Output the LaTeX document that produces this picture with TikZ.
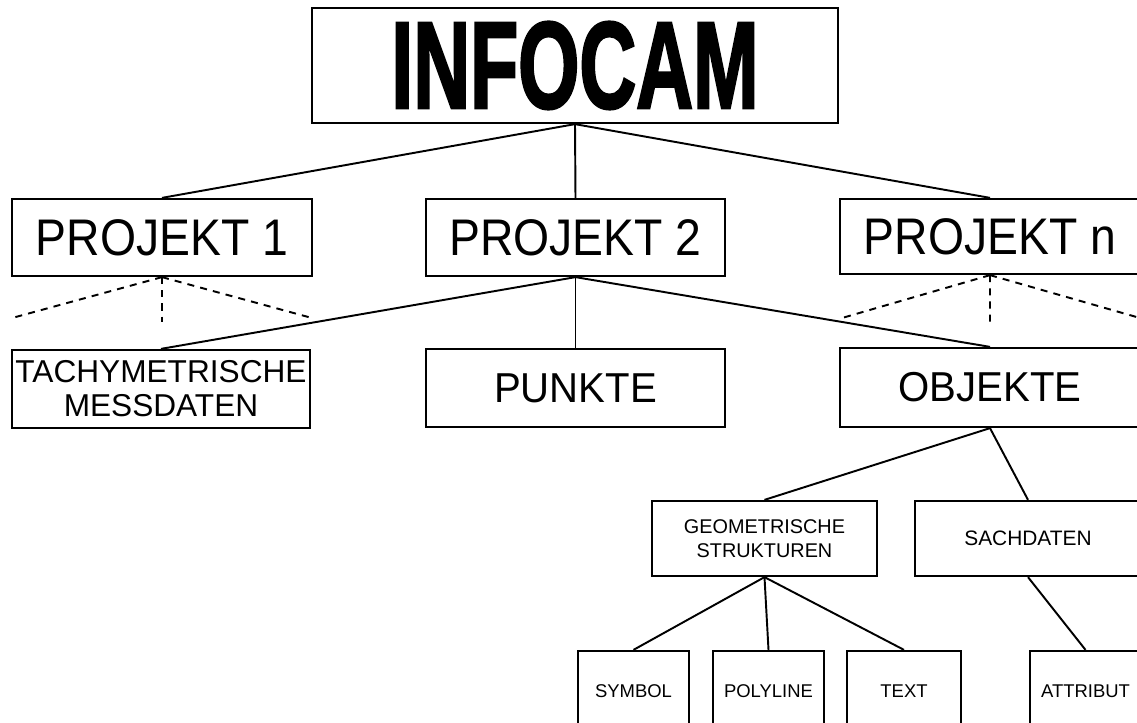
\documentclass[tikz,border=0pt]{standalone}
\usepackage{fontspec}
\setmainfont{Liberation Sans}
\newfontfamily\heavyfont[FakeBold=2.5]{Liberation Sans Bold}
\usepackage{graphicx}
\begin{document}
\begin{tikzpicture}[x=0.02cm,y=-0.02cm,
  box/.style={draw, line width=1.3pt, inner sep=0pt, align=center},
  link/.style={line width=1.1pt},
  dlink/.style={line width=1.1pt, dash pattern=on 4pt off 3.5pt},
  fbig/.style={font=\fontsize{29.3}{30}\selectfont},
  fmid/.style={font=\fontsize{23.8}{25}\selectfont},
  ftach/.style={font=\fontsize{18}{19.3}\selectfont},
  fgeo/.style={font=\fontsize{11.3}{13.6}\selectfont},
  fsach/.style={font=\fontsize{11.9}{14}\selectfont},
  fsmall/.style={font=\fontsize{10.5}{12}\selectfont}]
\useasboundingbox (0,0) rectangle (1137,723);
% top
\node[box, minimum width=10.52cm, minimum height=2.3cm] (inf) at (575,65.5)
  {\heavyfont\fontsize{70}{70}\selectfont\scalebox{0.64}[1]{INFOCAM}};
% projects
\node[box, fbig, minimum width=6cm, minimum height=1.54cm] (p1) at (162,237.5)
  {\scalebox{0.9}[1]{PROJEKT 1}};
\node[box, fbig, minimum width=5.98cm, minimum height=1.54cm] (p2) at (575.5,237.5)
  {\scalebox{0.9}[1]{PROJEKT 2}};
\node[box, fbig, minimum width=8.2cm, minimum height=1.5cm] (pn) at (1045,236.5)
  {\scalebox{0.9}[1]{PROJEKT n}\hspace*{2.2cm}};
% level 3
\node[box, ftach, minimum width=5.96cm, minimum height=1.56cm] (tach) at (161,389)
  {TACHYMETRISCHE\\MESSDATEN};
\node[box, fmid, minimum width=5.98cm, minimum height=1.56cm] (punk) at (575.5,388)
  {\scalebox{0.96}[1]{PUNKTE}};
\node[box, fmid, minimum width=8.2cm, minimum height=1.58cm] (obj) at (1045,387.5)
  {\scalebox{0.96}[1]{OBJEKTE}\hspace*{2.2cm}};
% level 4
\node[box, fgeo, minimum width=4.5cm, minimum height=1.5cm] (geo) at (764.5,538.5)
  {GEOMETRISCHE\\STRUKTUREN};
\node[box, fsach, minimum width=6.7cm, minimum height=1.5cm] (sach) at (1082.5,538.5)
  {SACHDATEN\hspace*{2.18cm}};
% level 5
\node[box, fsmall, minimum width=2.22cm, minimum height=1.6cm] (sym) at (633.5,691) {SYMBOL};
\node[box, fsmall, minimum width=2.22cm, minimum height=1.6cm] (poly) at (768.5,691) {POLYLINE};
\node[box, fsmall, minimum width=2.28cm, minimum height=1.6cm] (txt) at (904,691) {TEXT};
\node[box, fsmall, minimum width=4.4cm, minimum height=1.6cm] (attr) at (1140,691)
  {ATTRIBUT\hspace*{2.18cm}};
% connectors
\draw[link] (inf.south) -- (p1.north);
\draw[link] (inf.south) -- (p2.north);
\draw[link] (inf.south) -- ([xshift=-1.1cm]pn.north);
\draw[link] (p2.south) -- (tach.north);
\draw[link] (p2.south) -- (punk.north);
\draw[link] (p2.south) -- ([xshift=-1.1cm]obj.north);
\draw[link] ([xshift=-1.1cm]obj.south) -- (geo.north);
\draw[link] ([xshift=-1.1cm]obj.south) -- ([xshift=-1.09cm]sach.north);
\draw[link] (geo.south) -- (sym.north);
\draw[link] (geo.south) -- (poly.north);
\draw[link] (geo.south) -- (txt.north);
\draw[link] ([xshift=-1.09cm]sach.south) -- ([xshift=-1.09cm]attr.north);
% dashed stubs
\coordinate (d1l) at (12,318);
\coordinate (d1m) at (162,322);
\coordinate (d1r) at (312,318);
\coordinate (dnl) at (842,318);
\coordinate (dnm) at (990,322);
\coordinate (dnr) at (1140,318);
\draw[dlink] (p1.south) -- (d1l);
\draw[dlink] (p1.south) -- (d1m);
\draw[dlink] (p1.south) -- (d1r);
\draw[dlink] ([xshift=-1.1cm]pn.south) -- (dnl);
\draw[dlink] ([xshift=-1.1cm]pn.south) -- (dnm);
\draw[dlink] ([xshift=-1.1cm]pn.south) -- (dnr);
\end{tikzpicture}
\end{document}
